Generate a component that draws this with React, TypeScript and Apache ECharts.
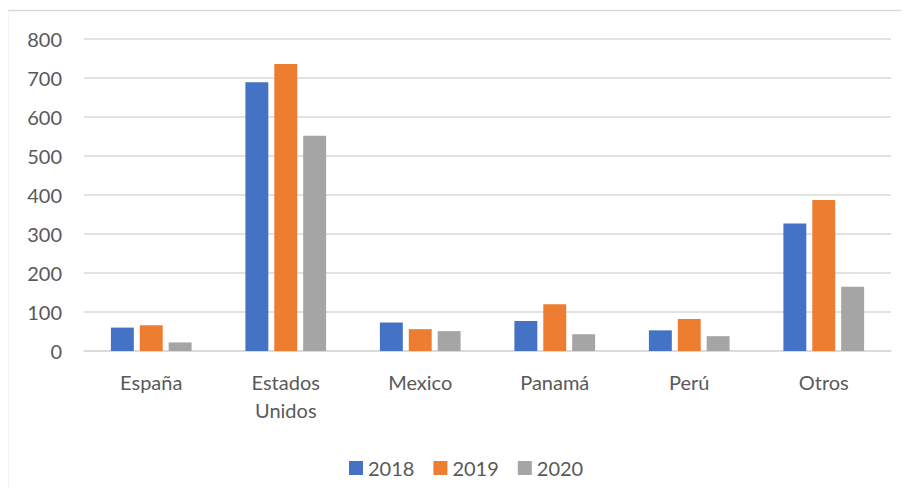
import React, { useEffect, useRef } from "react";
import * as echarts from "echarts";

const categories = ["España", "Estados\nUnidos", "Mexico", "Panamá", "Perú", "Otros"];
const seriesNames = ["2018", "2019", "2020"];
const values2018 = [60, 689, 73, 77, 53, 327];
const values2019 = [66, 736, 56, 120, 82, 387];
const values2020 = [22, 552, 51, 43, 38, 165];
const colors = ["#4472C4", "#ED7D31", "#A5A5A5"];

export default function App() {
  const ref = useRef<HTMLDivElement>(null);
  useEffect(() => {
    if (!ref.current) return;
    const chart = echarts.init(ref.current, undefined, { renderer: "svg" });
    const font = "Lato, 'Open Sans', sans-serif";
    const data = [values2018, values2019, values2020];
    chart.setOption({
      animation: false,
      textStyle: { fontFamily: font },
      graphic: [
        {
          type: "rect",
          shape: { x: -0.5, y: 2.5, width: 1000, height: 1000 },
          style: { fill: "none", stroke: "#d9d9d9", lineWidth: 1.5 },
          silent: true,
        },
      ],
      grid: { left: 76, right: 10, top: 31, bottom: 138, containLabel: false },
      legend: {
        data: seriesNames,
        left: 336,
        top: 445,
        itemWidth: 14,
        itemHeight: 14,
        itemGap: 19,
        icon: "rect",
        textStyle: { color: "#595959", fontSize: 20, fontFamily: font },
      },
      xAxis: {
        type: "category",
        data: categories,
        axisLine: { lineStyle: { color: "#d9d9d9", width: 1.5 } },
        axisTick: { show: false },
        axisLabel: { color: "#595959", fontSize: 20, margin: 17, lineHeight: 28, fontFamily: font, interval: 0 },
      },
      yAxis: {
        type: "value",
        min: 0,
        max: 800,
        interval: 100,
        axisLine: { show: false },
        axisTick: { show: false },
        splitLine: { lineStyle: { color: "#d9d9d9", width: 1.5 } },
        axisLabel: { color: "#595959", fontSize: 20, margin: 22, fontFamily: font },
      },
      series: seriesNames.map((name, i) => ({
        name,
        type: "bar",
        data: data[i],
        barGap: "26%",
        barCategoryGap: "40%",
        itemStyle: { color: colors[i] },
      })),
    });
    return () => chart.dispose();
  }, []);
  return <div ref={ref} style={{ width: 893, height: 481 }} />;
}
